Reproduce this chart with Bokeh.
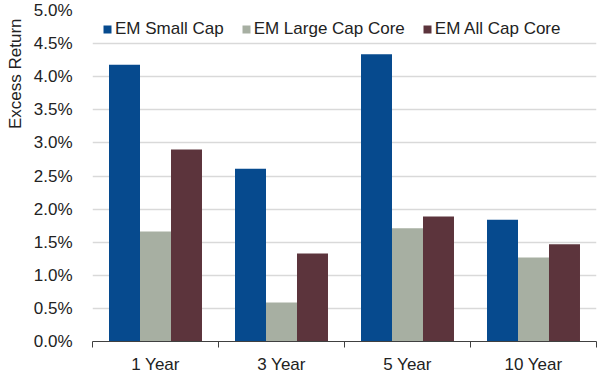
from bokeh.plotting import figure
from bokeh.models import (ColumnDataSource, FixedTicker, Legend, LegendItem, Title,
                          PrintfTickFormatter, Range1d)
from bokeh.transform import dodge
from bokeh.embed import file_html
from bokeh.resources import INLINE

categories = ["1 Year", "3 Year", "5 Year", "10 Year"]
series_names = ["EM Small Cap", "EM Large Cap Core", "EM All Cap Core"]
small_cap = [4.18, 2.61, 4.34, 1.84]
large_cap_core = [1.66, 0.59, 1.71, 1.27]
all_cap_core = [2.90, 1.33, 1.89, 1.47]
y_ticks = [0.0, 0.5, 1.0, 1.5, 2.0, 2.5, 3.0, 3.5, 4.0, 4.5, 5.0]
colors = ["#064a8e", "#a7afa2", "#5c343c"]

FONT = "Liberation Sans"
TEXT = "#222222"

xc = [i + 0.5 for i in range(len(categories))]
src = ColumnDataSource(dict(x=xc, small=small_cap, large=large_cap_core, allc=all_cap_core))

p = figure(width=600, height=377, x_range=Range1d(0, len(categories)),
           y_range=Range1d(y_ticks[0], y_ticks[-1]),
           output_backend="svg", toolbar_location=None,
           min_border_left=92, min_border_right=4, min_border_top=10, min_border_bottom=36)

bw = 0.246
r1 = p.vbar(x=dodge("x", -bw, range=p.x_range), top="small", width=bw, source=src,
            fill_color=colors[0], line_color=None)
r2 = p.vbar(x=dodge("x", 0, range=p.x_range), top="large", width=bw, source=src,
            fill_color=colors[1], line_color=None)
r3 = p.vbar(x=dodge("x", bw, range=p.x_range), top="allc", width=bw, source=src,
            fill_color=colors[2], line_color=None)

# x axis
p.xaxis.ticker = FixedTicker(ticks=xc, minor_ticks=list(range(len(categories) + 1)))
p.xaxis.major_label_overrides = {x: c for x, c in zip(xc, categories)}
p.xaxis.major_tick_in = 0
p.xaxis.major_tick_out = 0
p.xaxis.minor_tick_in = 0
p.xaxis.minor_tick_out = 6
p.xaxis.minor_tick_line_color = "#404040"
p.xaxis.axis_line_color = "#404040"
p.xaxis.axis_line_width = 1
p.xaxis.major_label_standoff = 7
p.xaxis.major_label_text_font = FONT
p.xaxis.major_label_text_font_size = "17px"
p.xaxis.major_label_text_color = TEXT

# y axis
p.yaxis.ticker = FixedTicker(ticks=y_ticks)
p.yaxis.formatter = PrintfTickFormatter(format="%.1f%%")
p.yaxis.axis_line_color = None
p.yaxis.major_tick_line_color = None
p.yaxis.minor_tick_line_color = None
p.yaxis.major_label_standoff = 14
p.yaxis.major_label_text_font = FONT
p.yaxis.major_label_text_font_size = "17px"
p.yaxis.major_label_text_color = TEXT

p.xgrid.grid_line_color = None
p.ygrid.grid_line_color = "#d9d9d9"
p.ygrid.grid_line_width = 1.5
p.outline_line_color = None

t = Title(text="Excess Return", align="right", text_font=FONT, text_font_size="17px",
          text_font_style="normal", text_color=TEXT, standoff=8, offset=8,
          vertical_align="top")
p.add_layout(t, "left")

legend = Legend(items=[LegendItem(label=series_names[0], renderers=[r1]),
                       LegendItem(label=series_names[1], renderers=[r2]),
                       LegendItem(label=series_names[2], renderers=[r3])],
                orientation="horizontal", location=(10, 302),
                glyph_width=10, glyph_height=10, label_standoff=3, spacing=17,
                padding=0, margin=0, border_line_color=None, background_fill_alpha=0,
                label_text_font=FONT, label_text_font_size="17px", label_text_color=TEXT,
                label_height=20)
p.add_layout(legend, "center")

open("out.html", "w").write(file_html(p, INLINE))
